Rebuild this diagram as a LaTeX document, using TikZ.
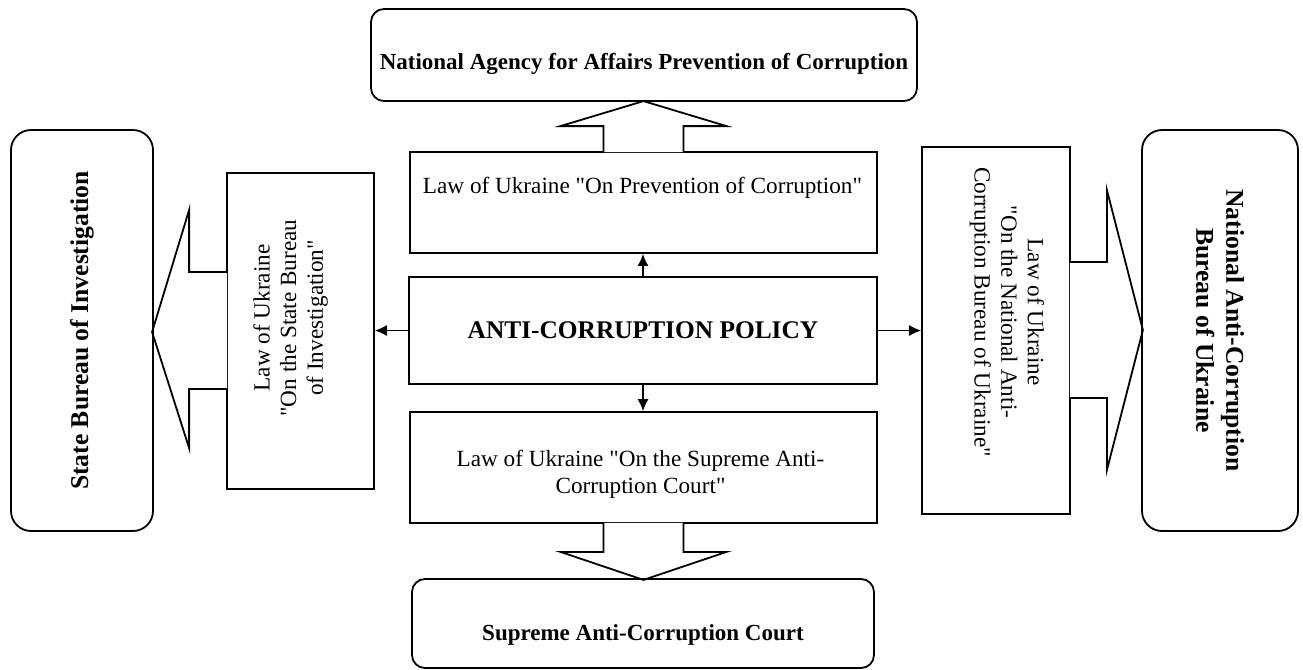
\documentclass[tikz,border=0pt]{standalone}
\usepackage{fontspec}
\setmainfont{Liberation Serif}[Ligatures=TeXOff]
\usetikzlibrary{arrows.meta,calc}

\begin{document}
\begin{tikzpicture}[
		x=0.5pt, y=-0.5pt,
		ente/.style={
				draw, line width=0.9pt, rounded corners=6.5pt,
				align=center,
				font=\bfseries\fontsize{11.5}{13.5}\selectfont
			},
		entegrande/.style={
				ente, rounded corners=10pt,
				font=\bfseries\fontsize{12.8}{15}\selectfont % testo ruotato più grande
			},
		legge/.style={draw, line width=0.9pt, inner sep=0pt},
		testo/.style={align=center, inner sep=0pt, font=\fontsize{11.6}{13.3}\selectfont},
		blocco/.style={draw, fill=white, line width=0.9pt, line join=miter},
		freccia/.style={-{Latex[length=6pt,width=5.5pt]}, line width=0.65pt}
	]
	\useasboundingbox (0,0) rectangle (1303,670);

	\node[draw, line width=0.9pt, minimum width=234pt, minimum height=53.5pt,
		font=\bfseries\fontsize{12.7}{15}\selectfont] (policy) at (643,330.5) {ANTI-CORRUPTION POLICY};

	% leggi
	\node[legge, minimum width=233.5pt, minimum height=50.5pt] (toplaw) at (643.5,202.5) {};
	\node[legge, minimum width=233.5pt, minimum height=55.5pt] (botlaw) at (643.5,467.5) {};
	\node[legge, minimum width=73.5pt, minimum height=158pt] (leftlaw) at (300.5,331) {};
	\node[legge, minimum width=74pt, minimum height=183.5pt] (rightlaw) at (996,330.5) {};

	\node[testo] (toptxt) at ($(toplaw)+(-1,-15)$) {Law of Ukraine "On Prevention of Corruption"};
	\node[testo] (bottxt) at ($(botlaw)+(-3,6.5)$) {Law of Ukraine "On the Supreme Anti-\\Corruption Court"};
	\node[testo, rotate=90] (lefttxt) at ($(leftlaw)+(-10,-13)$) {Law of Ukraine\\"On the State Bureau\\of Investigation"};
	\node[testo, rotate=-90] (righttxt) at ($(rightlaw)+(11,-18.5)$) {Law of Ukraine\\"On the National Anti-\\Corruption Bureau of Ukraine"};

	% frecce a blocco
	\draw[blocco] ($(toplaw.north)+(-40,1)$) -- ++(0,-26) -- ++(-43,0) -- ++(83,-25) -- ++(83,25) -- ++(-43,0) -- ++(0,26);
	\draw[blocco] ($(botlaw.south)+(-40,-1)$) -- ++(0,29) -- ++(-43,0) -- ++(83,28) -- ++(83,-28) -- ++(-43,0) -- ++(0,-29);
	\draw[blocco] ($(leftlaw.west)+(1,-59)$) -- ++(-38,0) -- ++(0,-62) -- ++(-37,122) -- ++(37,116) -- ++(0,-59) -- ++(38,0);
	\draw[blocco] ($(rightlaw.east)+(-1,-68.5)$) -- ++(37,0) -- ++(0,-72) -- ++(36,140) -- ++(-36,140) -- ++(0,-72) -- ++(-37,0);

	\node[ente, minimum width=273pt, minimum height=46pt, text height=16.6pt, text depth=2.5pt] (naapc) at (644,55) {National Agency for Affairs Prevention of Corruption};
	\node[ente, minimum width=231pt, minimum height=44.5pt, text height=19.6pt, text depth=2.5pt] (sacc) at (643,623.5) {Supreme Anti-Corruption Court};
	\node[entegrande, rotate=90, minimum width=200.5pt, minimum height=71pt] (sbi) at (82,330.5) {State Bureau of Investigation};
	\node[entegrande, rotate=-90, minimum width=200.5pt, minimum height=78pt] (nabu) at (1220,330.5) {National Anti-Corruption\\Bureau of Ukraine};

	\draw[freccia] (policy.north) -- (policy.north |- toplaw.south);
	\draw[freccia] (policy.south) -- (policy.south |- botlaw.north);
	\draw[freccia] (policy.west) -- (policy.west -| leftlaw.east);
	\draw[freccia] (policy.east) -- (policy.east -| rightlaw.west);
\end{tikzpicture}
\end{document}
